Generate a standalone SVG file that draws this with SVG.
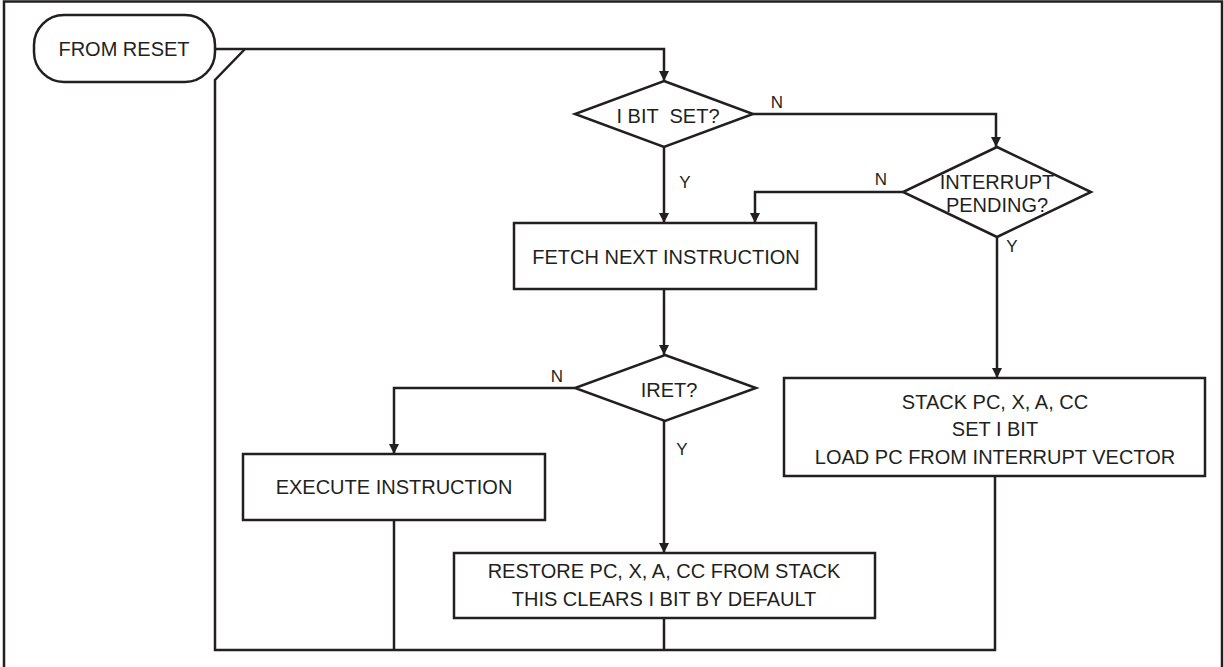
<svg xmlns="http://www.w3.org/2000/svg" width="1224" height="667" viewBox="0 0 1224 667">
<style>
.s{fill:#fff;stroke:#231f20;stroke-width:2.5}
.c{fill:none;stroke:#231f20;stroke-width:2.5}
.t{font-family:"Liberation Sans",Arial,sans-serif;font-size:20px;fill:#231f20;text-anchor:middle}
.l{font-family:"Liberation Sans",Arial,sans-serif;font-size:17px;fill:#231f20;text-anchor:middle}
</style>
<defs>
<marker id="ah" viewBox="0 0 10 16" refX="10" refY="8" markerWidth="10" markerHeight="16" markerUnits="userSpaceOnUse" orient="auto">
<path d="M0,3 L10,8 L0,13 Z" fill="#231f20"/>
</marker>
</defs>
<rect x="0" y="0" width="1224" height="667" fill="#fff"/>
<rect id="frame" x="4" y="1.5" width="1218" height="700" fill="none" stroke="#231f20" stroke-width="2.5"/>
<g id="connectors">
<path class="c" d="M215,49 H664 V81" marker-end="url(#ah)"/>
<path class="c" d="M664,147 V223" marker-end="url(#ah)"/>
<path class="c" d="M753,114 H996 V147" marker-end="url(#ah)"/>
<path class="c" d="M903,192 H755 V223" marker-end="url(#ah)"/>
<path class="c" d="M997,237 V378" marker-end="url(#ah)"/>
<path class="c" d="M664,289 V355" marker-end="url(#ah)"/>
<path class="c" d="M575,388 H394 V454" marker-end="url(#ah)"/>
<path class="c" d="M664,421 V553" marker-end="url(#ah)"/>
<path class="c" d="M394,520 V650"/>
<path class="c" d="M664,618 V650"/>
<path class="c" d="M995,476 V650 H215 V80 L245,49"/>
<text class="l" x="777" y="108">N</text>
<text class="l" x="685" y="188">Y</text>
<text class="l" x="881" y="185">N</text>
<text class="l" x="1012" y="252">Y</text>
<text class="l" x="557" y="382">N</text>
<text class="l" x="682" y="455">Y</text>
</g>
<g id="from-reset">
<rect class="s" x="34" y="15" width="181" height="67" rx="30" ry="30"/>
<text class="t" x="124" y="56">FROM RESET</text>
</g>
<g id="i-bit-set">
<polygon class="s" points="664,81 753,114 664,147 575,114"/>
<text class="t" x="668" y="123" xml:space="preserve">I BIT  SET?</text>
</g>
<g id="interrupt-pending">
<polygon class="s" points="997,147 1091,192 997,237 903,192"/>
<text class="t" x="997" y="189">INTERRUPT</text>
<text class="t" x="997" y="212">PENDING?</text>
</g>
<g id="fetch">
<rect class="s" x="514" y="223" width="302" height="66"/>
<text class="t" x="666" y="264">FETCH NEXT INSTRUCTION</text>
</g>
<g id="iret">
<polygon class="s" points="665,355 756,388 665,421 575,388"/>
<text class="t" x="669" y="397">IRET?</text>
</g>
<g id="execute">
<rect class="s" x="243" y="454" width="302" height="66"/>
<text class="t" x="394" y="494">EXECUTE INSTRUCTION</text>
</g>
<g id="restore">
<rect class="s" x="454" y="553" width="421" height="65"/>
<text class="t" x="664" y="578">RESTORE PC, X, A, CC FROM STACK</text>
<text class="t" x="664" y="606">THIS CLEARS I BIT BY DEFAULT</text>
</g>
<g id="stack">
<rect class="s" x="784" y="378" width="421" height="98"/>
<text class="t" x="995" y="409">STACK PC, X, A, CC</text>
<text class="t" x="995" y="436">SET I BIT</text>
<text class="t" x="995" y="464">LOAD PC FROM INTERRUPT VECTOR</text>
</g>
</svg>
